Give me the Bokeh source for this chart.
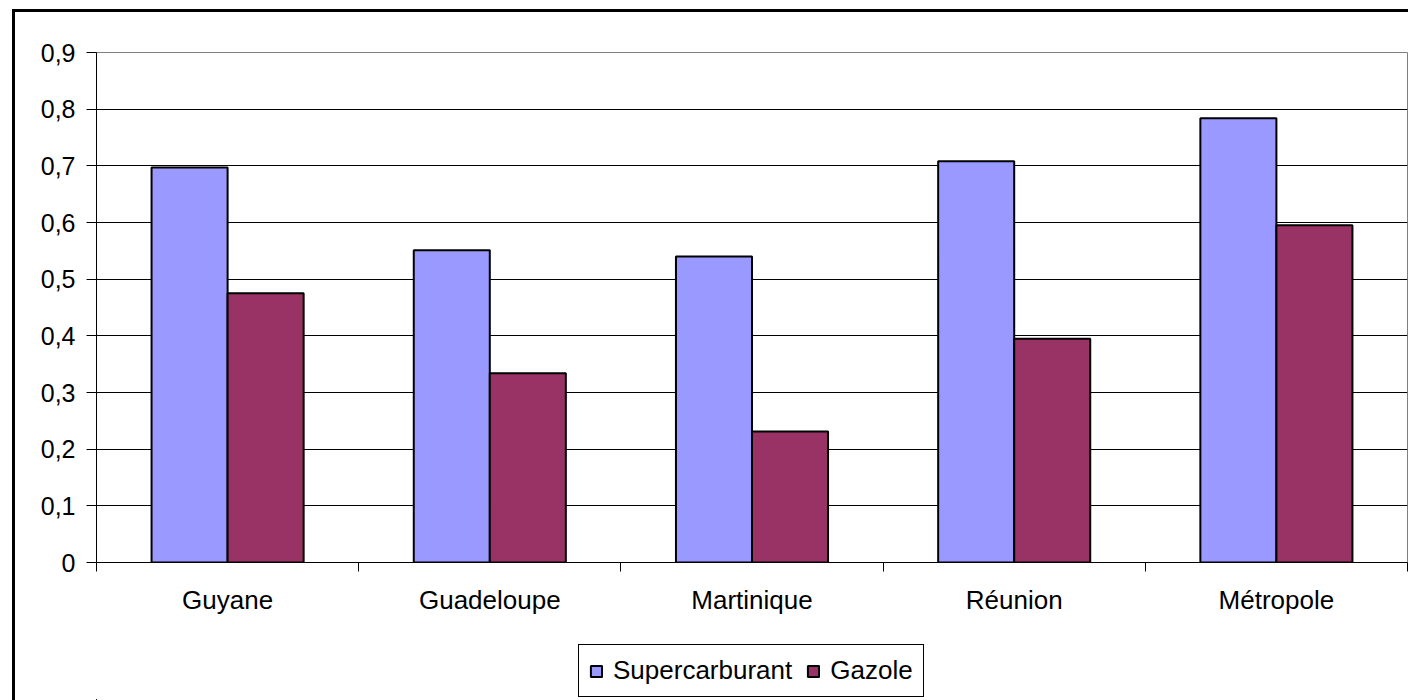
from bokeh.plotting import figure
from bokeh.models import FixedTicker, Legend, LegendItem, ColumnDataSource
from bokeh.layouts import column
from bokeh.embed import file_html
from bokeh.resources import INLINE

categories = ["Guyane", "Guadeloupe", "Martinique", "Réunion", "Métropole"]
supercarburant = [0.697, 0.551, 0.540, 0.708, 0.784]
gazole = [0.475, 0.334, 0.231, 0.395, 0.595]
y_ticks = [0.0, 0.1, 0.2, 0.3, 0.4, 0.5, 0.6, 0.7, 0.8, 0.9]
y_tick_labels = ["0", "0,1", "0,2", "0,3", "0,4", "0,5", "0,6", "0,7", "0,8", "0,9"]
series_names = ["Supercarburant", "Gazole"]
series_colors = ["#9999FF", "#993366"]

FONT = "Liberation Sans"

n = len(categories)
centers = [i + 0.5 for i in range(n)]
bw = 0.29

p = figure(width=1393, height=620, x_range=(0, n), y_range=(0, 0.9),
           output_backend="svg", toolbar_location=None,
           min_border_left=81, min_border_right=1, min_border_top=40, min_border_bottom=70)

src = ColumnDataSource(dict(
    xs=[c - bw / 2 for c in centers],
    xg=[c + bw / 2 for c in centers],
    s=supercarburant, g=gazole))

p.vbar(x="xs", top="s", width=bw, source=src, fill_color=series_colors[0],
       line_color="black", line_width=2)
p.vbar(x="xg", top="g", width=bw, source=src, fill_color=series_colors[1],
       line_color="black", line_width=2)

# axes
p.xaxis.ticker = FixedTicker(ticks=centers, minor_ticks=list(range(n + 1)))
p.xaxis.major_label_overrides = {c: lab for c, lab in zip(centers, categories)}
p.xaxis.major_tick_out = 0
p.xaxis.major_tick_in = 0
p.xaxis.minor_tick_out = 9
p.xaxis.minor_tick_in = 0
p.xaxis.minor_tick_line_color = "black"
p.xaxis.major_label_standoff = 13
p.xaxis.major_label_text_font = FONT
p.xaxis.major_label_text_font_size = "26px"
p.xaxis.major_label_text_color = "black"
p.xaxis.axis_line_color = "black"

p.yaxis.ticker = FixedTicker(ticks=y_ticks)
p.yaxis.major_label_overrides = {t: lab for t, lab in zip(y_ticks, y_tick_labels)}
p.yaxis.major_tick_out = 10
p.yaxis.major_tick_in = 0
p.yaxis.minor_tick_line_color = None
p.yaxis.major_label_standoff = 11
p.yaxis.major_label_text_font = FONT
p.yaxis.major_label_text_font_size = "25px"
p.yaxis.major_label_text_color = "black"
p.yaxis.axis_line_color = "black"
p.yaxis.major_tick_line_color = "black"

p.xgrid.grid_line_color = None
p.ygrid.ticker = FixedTicker(ticks=y_ticks)
p.ygrid.grid_line_color = "black"
p.ygrid.grid_line_width = 1

p.outline_line_color = "#808080"
p.outline_line_width = 1
p.background_fill_color = "white"
p.border_fill_color = "white"

# legend strip below the chart (same series, ranges chosen so the bars lie out of view;
# they only provide the legend swatches)
pl = figure(width=1393, height=68, x_range=(100, 105), y_range=(100, 101),
            output_backend="svg", toolbar_location=None,
            x_axis_location=None, y_axis_location=None,
            min_border_left=0, min_border_right=0, min_border_top=0, min_border_bottom=0)
pl.xgrid.grid_line_color = None
pl.ygrid.grid_line_color = None
pl.outline_line_color = None
pl.border_fill_color = "white"
l1 = pl.vbar(x="xs", top="s", width=bw, source=src, fill_color=series_colors[0],
             line_color="black", line_width=2)
l2 = pl.vbar(x="xg", top="g", width=bw, source=src, fill_color=series_colors[1],
             line_color="black", line_width=2)

legend = Legend(items=[LegendItem(label=series_names[0], renderers=[l1], index=0),
                       LegendItem(label=series_names[1], renderers=[l2], index=0)],
                orientation="horizontal", location=(482, 3),
                glyph_width=14, glyph_height=14, label_standoff=10, spacing=14,
                padding=10, margin=0,
                label_text_font=FONT, label_text_font_size="26px",
                label_text_color="black",
                border_line_color="black", border_line_width=1, border_line_alpha=1.0,
                background_fill_alpha=1.0)
pl.add_layout(legend, "center")

layout = column(p, pl, spacing=0,
                styles={"border-left": "3px solid black", "border-top": "3px solid black",
                        "margin-left": "12px", "margin-top": "9px"})

open("out.html", "w").write(file_html(layout, INLINE))
